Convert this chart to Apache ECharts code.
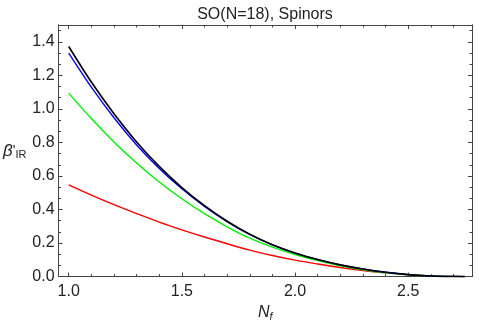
<!DOCTYPE html>
<html>
<head>
    <meta charset="utf-8">
    <title>SO(N=18), Spinors</title>
    <script src="https://cdn.jsdelivr.net/npm/echarts@6/dist/echarts.min.js"></script>
</head>
<body style="margin:0;background-color:#fff;">
    <div id="main" style="width:479px;height:327px;"></div>
    <script type="text/javascript">
        // N_f 取值
        var nf = [1.0, 1.1, 1.2, 1.3, 1.4, 1.5, 1.6, 1.7, 1.8, 1.9, 2.0, 2.1, 2.2, 2.3, 2.4, 2.5, 2.6, 2.7, 2.75];

        // 四条曲线
        var blackVals = [1.372, 1.160, 0.971, 0.803, 0.657, 0.531, 0.423, 0.330, 0.252, 0.190, 0.141, 0.102, 0.070, 0.045, 0.026, 0.012, 0.004, 0.0005, 0];
        var blueVals  = [1.333, 1.130, 0.947, 0.785, 0.645, 0.524, 0.419, 0.328, 0.251, 0.189, 0.140, 0.101, 0.070, 0.045, 0.026, 0.012, 0.004, 0.0005, 0];
        var greenVals = [1.094, 0.942, 0.803, 0.677, 0.564, 0.464, 0.375, 0.297, 0.229, 0.176, 0.132, 0.095, 0.064, 0.040, 0.023, 0.011, 0.0035, 0.0003, 0];
        var redVals   = [0.547, 0.486, 0.429, 0.376, 0.325, 0.279, 0.236, 0.196, 0.158, 0.126, 0.098, 0.075, 0.054, 0.036, 0.022, 0.011, 0.004, 0.0004, 0];

        // 刻度
        var xMajor = [1.0, 1.5, 2.0, 2.5];
        var xMinor = [1.1, 1.2, 1.3, 1.4, 1.6, 1.7, 1.8, 1.9, 2.1, 2.2, 2.3, 2.4, 2.6, 2.7];
        var yMajor = [0, 0.2, 0.4, 0.6, 0.8, 1.0, 1.2, 1.4];
        var yMinor = [0.0667, 0.1333, 0.2667, 0.3333, 0.4667, 0.5333, 0.6667, 0.7333,
                      0.8667, 0.9333, 1.0667, 1.1333, 1.2667, 1.3333, 1.4667];

        var XMIN = 0.955, XMAX = 2.782, YMIN = 0, YMAX = 1.5;
        var frameColor = '#444';
        var font = 'Liberation Sans, Arial, sans-serif';

        function pairs(ys) {
            return nf.map(function (x, i) { return [x, ys[i]]; });
        }

        function xAx(pos, ticks, len, withLabel) {
            var a = {
                type: 'value', position: pos, min: XMIN, max: XMAX,
                splitLine: { show: false },
                axisLine: { show: true, onZero: false, lineStyle: { color: frameColor, width: 1 } },
                axisTick: { show: true, inside: true, length: len, customValues: ticks, lineStyle: { color: frameColor } },
                axisLabel: { show: false }
            };
            if (withLabel) {
                a.axisLabel = {
                    show: true, customValues: ticks, margin: 7,
                    fontSize: 16, color: '#222', fontFamily: font,
                    formatter: function (v) { return v.toFixed(1); }
                };
                a.name = '{n|N}{f|f}';
                a.nameLocation = 'middle';
                a.nameGap = 26;
                a.nameTextStyle = {
                    rich: {
                        n: { fontSize: 16, fontStyle: 'italic', color: '#222', fontFamily: font },
                        f: { fontSize: 11, fontStyle: 'italic', color: '#222', fontFamily: font, verticalAlign: 'bottom', padding: [8, 0, 0, 0] }
                    }
                };
            }
            return a;
        }

        function yAx(pos, ticks, len, withLabel) {
            var a = {
                type: 'value', position: pos, min: YMIN, max: YMAX,
                splitLine: { show: false },
                axisLine: { show: true, onZero: false, lineStyle: { color: frameColor, width: 1 } },
                axisTick: { show: true, inside: true, length: len, customValues: ticks, lineStyle: { color: frameColor } },
                axisLabel: { show: false }
            };
            if (withLabel) {
                a.axisLabel = {
                    show: true, customValues: ticks, margin: 4,
                    fontSize: 16, color: '#222', fontFamily: font,
                    formatter: function (v) { return v.toFixed(1); }
                };
                a.name = "{b|β}{p|'}{s|IR}";
                a.nameLocation = 'middle';
                a.nameRotate = 0;
                a.nameGap = 32;
                a.nameTextStyle = {
                    rich: {
                        b: { fontSize: 17, fontStyle: 'italic', color: '#222', fontFamily: font },
                        p: { fontSize: 14, color: '#222', fontFamily: font },
                        s: { fontSize: 11, color: '#222', fontFamily: font, verticalAlign: 'bottom', padding: [8, 0, 0, 0] }
                    }
                };
            }
            return a;
        }

        var myChart = echarts.init(document.getElementById('main'));

        var option = {
            animation: false,
            backgroundColor: '#fff',
            title: {
                text: 'SO(N=18), Spinors',
                left: 260, top: 2, textAlign: 'center',
                textStyle: { fontSize: 16, fontWeight: 'normal', color: '#222', fontFamily: font }
            },
            grid: { left: 58, right: 7, top: 25, bottom: 47 },
            xAxis: [
                xAx('bottom', xMajor, 4, true),
                xAx('bottom', xMinor, 2.5, false),
                xAx('top', xMajor, 4, false),
                xAx('top', xMinor, 2.5, false)
            ],
            yAxis: [
                yAx('left', yMajor, 4, true),
                yAx('left', yMinor, 2.5, false),
                yAx('right', yMajor, 4, false),
                yAx('right', yMinor, 2.5, false)
            ],
            series: [
                { name: 'red', type: 'line', data: pairs(redVals), smooth: 0.3, showSymbol: false, lineStyle: { color: '#ff0000', width: 1.4 } },
                { name: 'green', type: 'line', data: pairs(greenVals), smooth: 0.3, showSymbol: false, lineStyle: { color: '#00ee00', width: 1.4 } },
                { name: 'blue', type: 'line', data: pairs(blueVals), smooth: 0.3, showSymbol: false, lineStyle: { color: '#0000ff', width: 1.4 } },
                { name: 'black', type: 'line', data: pairs(blackVals), smooth: 0.3, showSymbol: false, lineStyle: { color: '#000000', width: 1.6 } }
            ]
        };

        myChart.setOption(option);
    </script>
</body>
</html>
